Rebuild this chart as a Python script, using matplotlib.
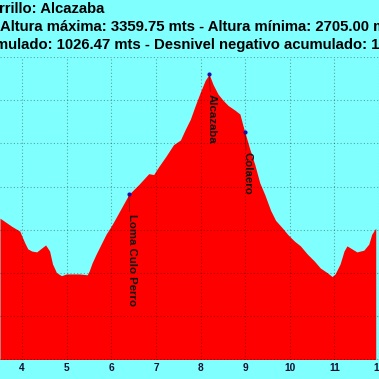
import matplotlib
matplotlib.use("Agg")
import matplotlib.pyplot as plt
import numpy as np

# perfil: distancia (km) y altura (m)
dist = [3.504, 3.771, 3.949, 3.993, 4.060, 4.127, 4.216, 4.327, 4.438, 4.527,
        4.616, 4.682, 4.771, 4.882, 4.993, 5.104, 5.282, 5.460, 5.504, 5.571,
        5.660, 5.771, 5.882, 5.993, 6.060, 6.393, 6.616, 6.838, 6.949, 7.060,
        7.216, 7.393, 7.549, 7.660, 7.771, 7.882, 7.993, 8.104, 8.193, 8.282,
        8.393, 8.504, 8.616, 8.771, 8.882, 8.949, 8.993, 9.104, 9.216, 9.327,
        9.438, 9.571, 9.682, 9.838, 9.949, 10.104, 10.238, 10.393, 10.549, 10.682,
        10.838, 10.949, 11.016, 11.127, 11.216, 11.282, 11.393, 11.504, 11.660, 11.771,
        11.838, 11.927]
alt = [3027, 3008, 2997, 2986, 2970, 2956, 2951, 2949, 2958, 2965,
       2951, 2921, 2901, 2894, 2898, 2898, 2898, 2896, 2905, 2924,
       2944, 2967, 2990, 3008, 3020, 3082, 3105, 3130, 3128, 3146,
       3169, 3197, 3208, 3233, 3256, 3288, 3318, 3346, 3359.75, 3336,
       3314, 3300, 3288, 3277, 3268, 3242, 3226, 3187, 3151, 3109,
       3082, 3045, 3022, 3004, 2990, 2974, 2963, 2944, 2928, 2912,
       2901, 2892, 2898, 2921, 2951, 2963, 2956, 2949, 2953, 2967,
       2990, 3004]

# puntos de paso
wp_names = ["Loma Culo Perro", "Alcazaba", "Colaero"]
wp_dist = [6.393, 8.193, 8.993]
wp_alt = [3082, 3359.75, 3226]

xticks = [4, 5, 6, 7, 8, 9, 10, 11, 12]
yticks = [2700, 2800, 2900, 3000, 3100, 3200, 3300, 3400]

titulo = ["rrillo: Alcazaba",
          "Altura máxima: 3359.75 mts - Altura mínima: 2705.00 mts",
          "mulado: 1026.47 mts - Desnivel negativo acumulado: 1026.47 mts"]

cyan = "#80ffff"
W = 379.0
fig = plt.figure(figsize=(3.79, 3.79), dpi=100, facecolor=cyan)

top_px, bot_px = 57.0, 359.5
ax = fig.add_axes([0, 1 - bot_px / W, 1, (bot_px - top_px) / W])
ax.set_facecolor(cyan)

ax.fill_between(dist, 2700, alt, color="#ff0000", lw=0, zorder=1)

ax.set_xlim(4 - 22.3 / 45, 4 + (W - 22.3) / 45)
ax.set_ylim(2700, 2700 + (bot_px - top_px) * 100 / 43.6)
ax.set_xticks(xticks)
ax.set_yticks(yticks)
ax.grid(True, color="black", alpha=0.35, linestyle=(0, (1, 2)), lw=0.8)
ax.tick_params(length=0, labelleft=False, pad=2.5, labelsize=7.3, labelcolor="#101030")
for t in ax.get_xticklabels():
    t.set_fontweight("bold")
    t.set_family("Liberation Sans")
for s in ax.spines.values():
    s.set_visible(False)

ax.scatter(wp_dist, wp_alt, s=4, color="#1010c0", zorder=4)
for n, d, h in zip(wp_names, wp_dist, wp_alt):
    ax.annotate(n, xy=(d, h), xytext=(0, -20), textcoords="offset pixels",
                rotation=-90, rotation_mode="anchor", ha="left", va="baseline",
                fontsize=8.2, fontweight="bold", family="Liberation Sans", color="#111111",
                arrowprops=dict(arrowstyle="-", color="#800000", lw=0.5,
                                shrinkA=0, shrinkB=0), zorder=5)

for i, (txt, xpx, ypx) in enumerate(zip(titulo, [-1, 0, -5], [13, 31, 49])):
    fig.text(xpx / W, 1 - ypx / W, txt, ha="left", va="baseline",
             fontsize=10.75, fontweight="bold", family="Liberation Sans", color="black")

fig.savefig("out.png", dpi=100, facecolor=cyan)
